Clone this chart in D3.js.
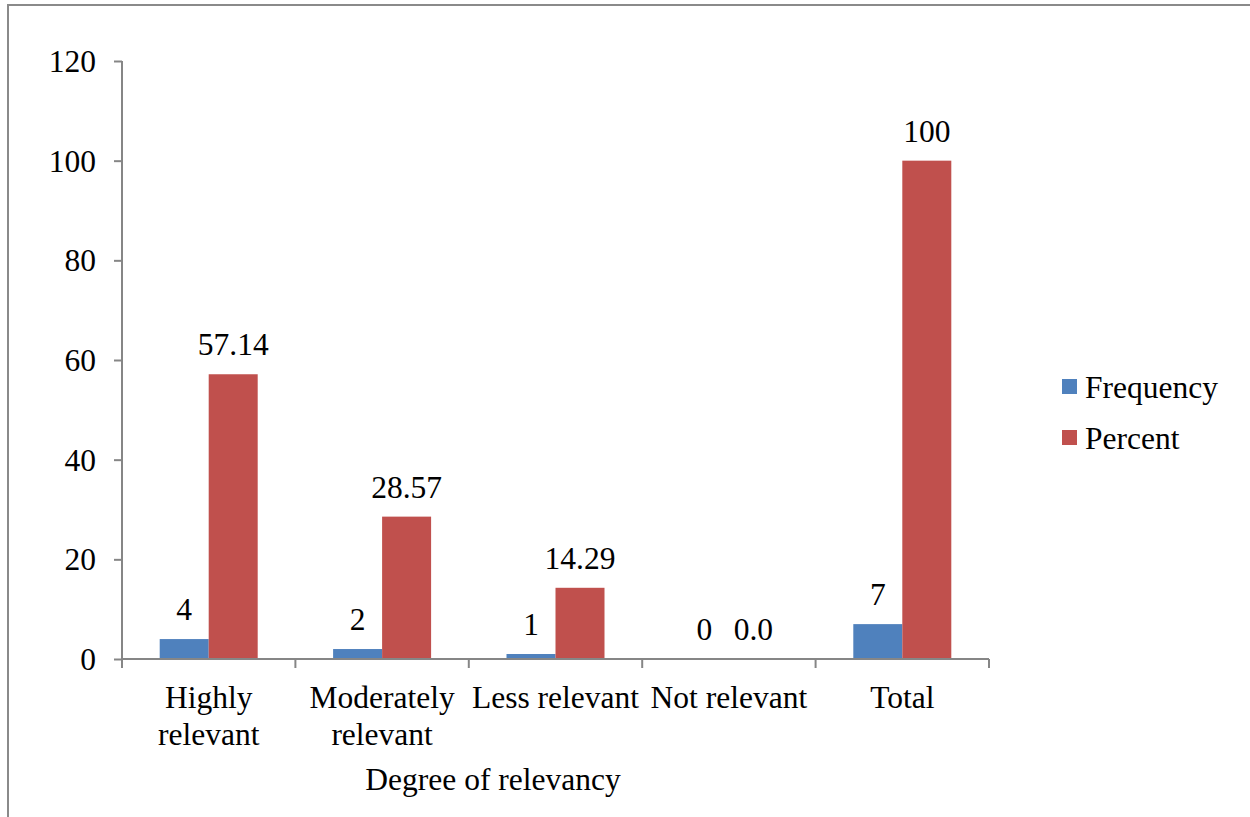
<!DOCTYPE html>
<html><head><meta charset="utf-8">
<script src="https://cdn.jsdelivr.net/npm/d3@7"></script>
<style>html,body{margin:0;padding:0;background:#fff;overflow:hidden}
text{font-family:"Times New Roman","Liberation Serif",Tinos,serif}</style>
</head><body>
<svg id="chart" width="1250" height="817"></svg>
<script>
const categories = [["Highly","relevant"],["Moderately","relevant"],["Less relevant"],["Not relevant"],["Total"]];
const seriesNames = ["Frequency","Percent"];
const frequency = [4, 2, 1, 0, 7];
const percent = [57.14, 28.57, 14.29, 0, 100];
const frequencyLabels = ["4","2","1","0","7"];
const percentLabels = ["57.14","28.57","14.29","0.0","100"];
const yTicks = [0, 20, 40, 60, 80, 100, 120];
const colors = ["#4F81BD", "#C0504D"];

(function () {
const svg = d3.select("#chart");
const fs = 31.5;

// outer chart border (clipped by page on right and bottom)
svg.append("rect").attr("x", 8).attr("y", 5).attr("width", 1300).attr("height", 900)
  .attr("fill", "none").attr("stroke", "#8a8a8a").attr("stroke-width", 2);

const pl = 122, pr = 989, pt = 61, pb = 659;
const x0 = d3.scaleBand().domain(d3.range(categories.length)).range([pl, pr]).paddingInner(0).paddingOuter(0);
const bw = 49;
const x1 = d3.scaleBand().domain([0,1]).range([0, 2*bw]);
const y = d3.scaleLinear().domain([0, 120]).range([pb, pt]);

// y axis
const yAxis = svg.append("g").attr("transform", `translate(${pl},0)`)
  .call(d3.axisLeft(y).tickValues(yTicks).tickSize(8).tickPadding(18).tickFormat(d3.format("d")));
yAxis.attr("font-family", null).attr("font-size", null);
yAxis.select(".domain").attr("stroke", "#868686").attr("stroke-width", 2).attr("d", `M0,${pt}H0V${pb}`);
yAxis.selectAll(".tick line").attr("stroke", "#868686").attr("stroke-width", 2);
yAxis.selectAll(".tick text").attr("font-size", fs).attr("fill", "#000").attr("dy", "0.33em");

// bars
const series = [frequency, percent];
const labels = [frequencyLabels, percentLabels];
series.forEach((vals, s) => {
  const g = svg.append("g");
  g.selectAll("rect").data(vals).join("rect")
    .attr("x", (d, i) => x0(i) + (x0.bandwidth() - 2*bw)/2 + x1(s))
    .attr("width", bw)
    .attr("y", d => y(d))
    .attr("height", d => pb - y(d))
    .attr("fill", colors[s]);
  g.selectAll("text").data(vals).join("text")
    .attr("x", (d, i) => x0(i) + (x0.bandwidth() - 2*bw)/2 + x1(s) + bw/2)
    .attr("y", d => y(d) - 19)
    .attr("text-anchor", "middle")
    .attr("font-size", fs).attr("fill", "#000")
    .text((d, i) => labels[s][i]);
});

// x axis
const xAxis = svg.append("g").attr("transform", `translate(0,${pb})`);
xAxis.append("path").attr("d", `M${pl},0H${pr}`).attr("stroke", "#868686").attr("stroke-width", 2).attr("fill", "none");
const edges = d3.range(categories.length + 1).map(i => i < categories.length ? x0(i) : pr);
xAxis.selectAll("line").data(edges).join("line")
  .attr("x1", d => d).attr("x2", d => d).attr("y1", 0).attr("y2", 9)
  .attr("stroke", "#868686").attr("stroke-width", 2);
categories.forEach((lines, i) => {
  const t = svg.append("text").attr("text-anchor", "middle")
    .attr("font-size", fs).attr("fill", "#000");
  lines.forEach((ln, j) => {
    t.append("tspan").attr("x", x0(i) + x0.bandwidth()/2).attr("y", 708 + j*37).text(ln);
  });
});

// axis title
svg.append("text").attr("x", 493).attr("y", 790).attr("text-anchor", "middle")
  .attr("font-size", fs).attr("fill", "#000").text("Degree of relevancy");

// legend
const leg = svg.append("g");
seriesNames.forEach((n, i) => {
  leg.append("rect").attr("x", 1062).attr("y", 379 + i*51).attr("width", 15).attr("height", 15).attr("fill", colors[i]);
  leg.append("text").attr("x", 1085).attr("y", 387 + i*51).attr("dy", "0.35em")
    .attr("font-size", fs).attr("fill", "#000").text(n);
});
})();
</script>
</body></html>
